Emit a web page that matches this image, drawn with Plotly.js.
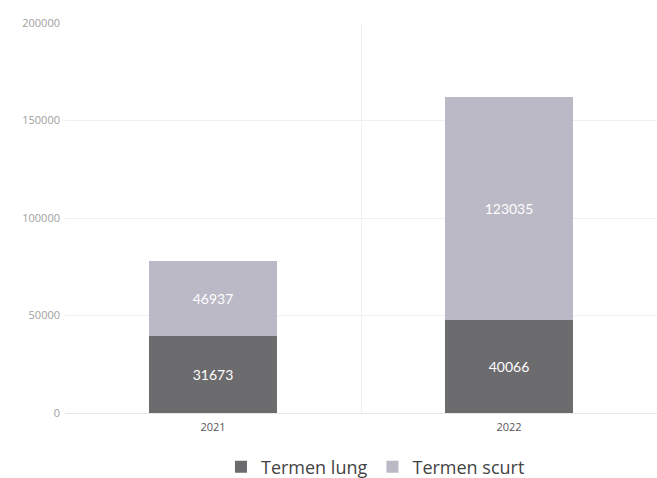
<!DOCTYPE html>
<html>
<head>
<meta charset="utf-8">
<script src="https://cdn.plot.ly/plotly-3.0.1.min.js"></script>
<style>
html,body{margin:0;padding:0;background:#fff;}
#chart{width:657px;height:478px;}
</style>
</head>
<body>
<div id="chart"></div>
<script>
// Categories
var years = ["2021", "2022"];
// Bar heights as drawn in the picture
var termenLung = [39600, 47800];
var termenScurt = [38600, 114200];
// Labels printed on the bars
var labelsLung = ["31673", "40066"];
var labelsScurt = ["46937", "123035"];
// Axis ticks
var yTicks = [0, 50000, 100000, 150000, 200000];

var traces = [
  {
    type: "bar", name: "Termen lung", x: years, y: termenLung,
    text: labelsLung, textposition: "inside", insidetextanchor: "middle",
    textfont: {color: "#ffffff", size: 14, family: "Lato, 'Open Sans', sans-serif"},
    marker: {color: "#6c6c6f"}, hoverinfo: "none"
  },
  {
    type: "bar", name: "Termen scurt", x: years, y: termenScurt,
    text: labelsScurt, textposition: "inside", insidetextanchor: "middle",
    textfont: {color: "#ffffff", size: 14, family: "Lato, 'Open Sans', sans-serif"},
    marker: {color: "#bab9c5"}, hoverinfo: "none"
  }
];

var layout = {
  width: 657, height: 478,
  barmode: "stack",
  bargap: 0.565,
  margin: {l: 65, r: 0, t: 23, b: 65},
  paper_bgcolor: "#ffffff", plot_bgcolor: "#ffffff",
  font: {family: "'Open Sans', 'Noto Sans', sans-serif", color: "#555"},
  xaxis: {
    type: "category", range: [-0.5, 1.5],
    tickson: "boundaries", showgrid: true, gridcolor: "#f0f0f0",
    ticklen: 0, tickfont: {size: 11, color: "#555"}, ticklabelstandoff: 6,
    showline: false, zeroline: false
  },
  yaxis: {
    range: [0, 200000], tickvals: yTicks, ticktext: yTicks.map(String),
    showgrid: true, gridcolor: "#efefef", zeroline: true, zerolinecolor: "#e6e6e6",
    tickfont: {size: 11, color: "#a0a0a0"}, ticks: "", ticklabelstandoff: 4
  },
  showlegend: true,
  legend: {
    orientation: "h", xref: "container", yref: "container",
    x: 0.5715, xanchor: "center", y: 0.023, yanchor: "middle",
    font: {size: 18, color: "#444"}, itemwidth: 30, traceorder: "normal"
  }
};

Plotly.newPlot("chart", traces, layout, {staticPlot: true, displayModeBar: false});
</script>
</body>
</html>
